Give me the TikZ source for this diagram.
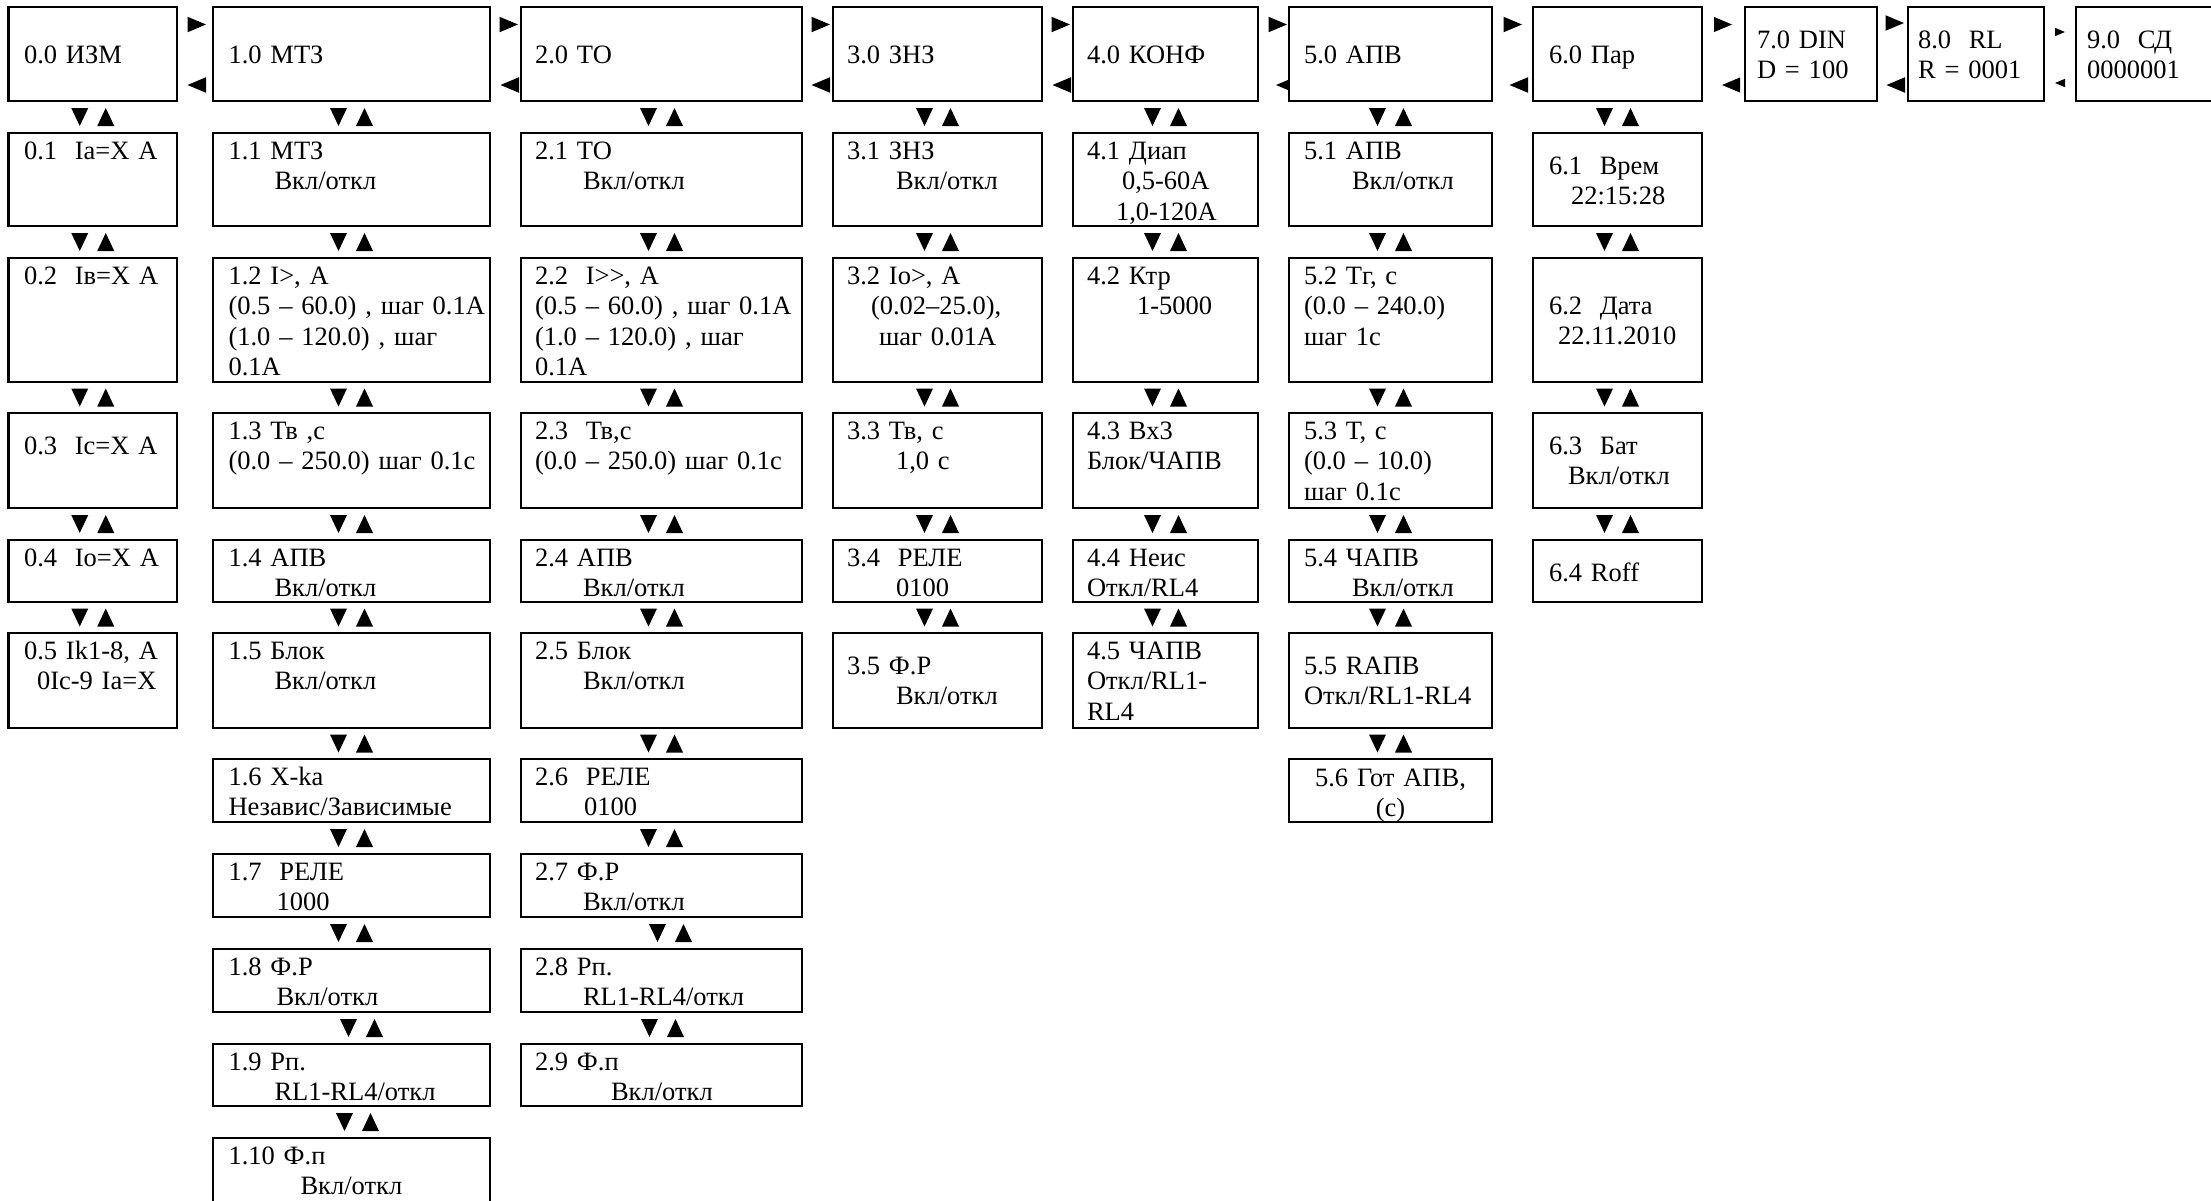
\documentclass[tikz,border=0pt]{standalone}
\usepackage{fontspec}
\setmainfont{Liberation Serif}
\usetikzlibrary{calc}
\newcommand\fsz{\fontsize{26.5}{30.5}\selectfont}
\newcommand\ind[1]{\hspace*{#1pt}}
\tikzset{
  box/.style={draw, line width=2.6pt, rectangle, inner sep=0pt, outer sep=0pt, anchor=north west},
  txt/.style={font=\fsz, inner sep=0pt, outer sep=0pt, anchor=base west, text width=500pt, align=left},
  ctxt/.style={font=\fsz, inner sep=0pt, outer sep=0pt, anchor=base, align=center},
}
\newcommand\mkbox[5]{\node[box, minimum width={#4-#2}, minimum height={#5-#3}] (#1) at (#2,#3) {};}
\newcommand\mktxt[4]{\node[txt] (#1) at ($(#2.north west)+(#3)$) {#4};}
\newcommand\vpair[3]{%
  \coordinate (m) at ($(#1.south)!0.5!(#2.north)+(#3,0)$);
  \fill ($(m)+(-21.5,-9)$) -- ($(m)+(-4.5,-9)$) -- ($(m)+(-13,9)$) -- cycle;
  \fill ($(m)+(4.5,9)$) -- ($(m)+(21.5,9)$) -- ($(m)+(13,-9)$) -- cycle;}
\newcommand\rarr[4]{%
  \fill ($(#1.north west)+(-#2,#3)$) -- ++(-#4,-0.42*#4) -- ++(0,0.84*#4) -- cycle;}
\newcommand\larr[4]{%
  \fill ($(#1.north west)+(-#2,#3)$) ++(0,-0.42*#4) -- ++(0,0.84*#4) -- ++(-#4,-0.42*#4) -- cycle;}
\begin{document}
\begin{tikzpicture}[x=1pt,y=-1pt]
\useasboundingbox (0,0) rectangle (2211,1200);
\fill[white] (0,0) rectangle (2211,1200);
\clip (0,0) rectangle (2211,1200);

% column 0
\mkbox{n00}{8.5}{7}{177}{101}
\mkbox{n01}{8.5}{133}{177}{226}
\mkbox{n02}{8.5}{258}{177}{382}
\mkbox{n03}{8.5}{413}{177}{508}
\mkbox{n04}{8.5}{540}{177}{602}
\mkbox{n05}{8.5}{633}{177}{728}
% column 1
\mkbox{n10}{213}{7}{490}{101}
\mkbox{n11}{213}{133}{490}{226}
\mkbox{n12}{213}{258}{490}{382}
\mkbox{n13}{213}{413}{490}{508}
\mkbox{n14}{213}{540}{490}{602}
\mkbox{n15}{213}{633}{490}{728}
\mkbox{n16}{213}{759}{490}{822}
\mkbox{n17}{213}{854}{490}{917}
\mkbox{n18}{213}{949}{490}{1012}
\mkbox{n19}{213}{1044}{490}{1106}
\mkbox{n1x}{213}{1138}{490}{1215}
% column 2
\mkbox{n20}{521}{7}{802}{101}
\mkbox{n21}{521}{133}{802}{226}
\mkbox{n22}{521}{258}{802}{382}
\mkbox{n23}{521}{413}{802}{508}
\mkbox{n24}{521}{540}{802}{602}
\mkbox{n25}{521}{633}{802}{728}
\mkbox{n26}{521}{759}{802}{822}
\mkbox{n27}{521}{854}{802}{917}
\mkbox{n28}{521}{949}{802}{1012}
\mkbox{n29}{521}{1044}{802}{1106}
% column 3
\mkbox{n30}{833}{7}{1042}{101}
\mkbox{n31}{833}{133}{1042}{226}
\mkbox{n32}{833}{258}{1042}{382}
\mkbox{n33}{833}{413}{1042}{508}
\mkbox{n34}{833}{540}{1042}{602}
\mkbox{n35}{833}{633}{1042}{728}
% column 4
\mkbox{n40}{1073}{7}{1258}{101}
\mkbox{n41}{1073}{133}{1258}{226}
\mkbox{n42}{1073}{258}{1258}{382}
\mkbox{n43}{1073}{413}{1258}{508}
\mkbox{n44}{1073}{540}{1258}{602}
\mkbox{n45}{1073}{633}{1258}{728}
% column 5
\mkbox{n50}{1289}{7}{1492}{101}
\mkbox{n51}{1289}{133}{1492}{226}
\mkbox{n52}{1289}{258}{1492}{382}
\mkbox{n53}{1289}{413}{1492}{508}
\mkbox{n54}{1289}{540}{1492}{602}
\mkbox{n55}{1289}{633}{1492}{728}
\mkbox{n56}{1289}{759}{1492}{822}
% column 6
\mkbox{n60}{1533}{7}{1702}{101}
\mkbox{n61}{1533}{133}{1702}{226}
\mkbox{n62}{1533}{258}{1702}{382}
\mkbox{n63}{1533}{413}{1702}{508}
\mkbox{n64}{1533}{540}{1702}{602}
% top right
\mkbox{n70}{1745}{7}{1877}{101}
\mkbox{n80}{1908}{7}{2044}{101}
\mkbox{n90}{2076}{7}{2215}{101}

% texts column 0
\mktxt{t00}{n00}{15.5,56}{0.0 ИЗМ}
\mktxt{t01}{n01}{15.5,26}{0.1\ \ Ia=X A}
\mktxt{t02}{n02}{15.5,26}{0.2\ \ Iв=X A}
\mktxt{t03}{n03}{15.5,41}{0.3\ \ Ic=X A}
\mktxt{t04}{n04}{15.5,26}{0.4\ \ Io=X A}
\mktxt{t05}{n05}{15.5,26}{0.5 Ik1-8, A\\\ind{13}0Ic-9 Ia=X}
% column 1
\mktxt{t10}{n10}{15.5,56}{1.0 МТЗ}
\mktxt{t11}{n11}{15.5,26}{1.1 МТЗ\\\ind{46}Вкл/откл}
\mktxt{t12}{n12}{15.5,26}{1.2 I>, A\\(0.5 – 60.0) , шаг 0.1А\\(1.0 – 120.0) , шаг\\0.1А}
\mktxt{t13}{n13}{15.5,26}{1.3 Тв ,с\\(0.0 – 250.0) шаг 0.1с}
\mktxt{t14}{n14}{15.5,26}{1.4 АПВ\\\ind{46}Вкл/откл}
\mktxt{t15}{n15}{15.5,26}{1.5 Блок\\\ind{46}Вкл/откл}
\mktxt{t16}{n16}{15.5,26}{1.6 Х-ka\\Независ/Зависимые}
\mktxt{t17}{n17}{15.5,26}{1.7\ \ РЕЛЕ\\\ind{48}1000}
\mktxt{t18}{n18}{15.5,26}{1.8 Ф.Р\\\ind{48}Вкл/откл}
\mktxt{t19}{n19}{15.5,26}{1.9 Рп.\\\ind{46}RL1-RL4/откл}
\mktxt{t1x}{n1x}{15.5,26}{1.10 Ф.п\\\ind{72}Вкл/откл}
% column 2
\mktxt{t20}{n20}{14,56}{2.0 ТО}
\mktxt{t21}{n21}{14,26}{2.1 ТО\\\ind{48}Вкл/откл}
\mktxt{t22}{n22}{14,26}{2.2\ \ I>{}>, A\\(0.5 – 60.0) , шаг 0.1А\\(1.0 – 120.0) , шаг\\0.1А}
\mktxt{t23}{n23}{14,26}{2.3\ \ Тв,с\\(0.0 – 250.0) шаг 0.1с}
\mktxt{t24}{n24}{14,26}{2.4 АПВ\\\ind{48}Вкл/откл}
\mktxt{t25}{n25}{14,26}{2.5 Блок\\\ind{48}Вкл/откл}
\mktxt{t26}{n26}{14,26}{2.6\ \ РЕЛЕ\\\ind{49}0100}
\mktxt{t27}{n27}{14,26}{2.7 Ф.Р\\\ind{48}Вкл/откл}
\mktxt{t28}{n28}{14,26}{2.8 Рп.\\\ind{48}RL1-RL4/откл}
\mktxt{t29}{n29}{14,26}{2.9 Ф.п\\\ind{76}Вкл/откл}
% column 3
\mktxt{t30}{n30}{14,56}{3.0 ЗНЗ}
\mktxt{t31}{n31}{14,26}{3.1 ЗНЗ\\\ind{49}Вкл/откл}
\mktxt{t32}{n32}{14,26}{3.2 Io>, A\\\ind{24}(0.02–25.0),\\\ind{32}шаг 0.01А}
\mktxt{t33}{n33}{14,26}{3.3 Тв, с\\\ind{49}1,0 с}
\mktxt{t34}{n34}{14,26}{3.4\ \ РЕЛЕ\\\ind{49}0100}
\mktxt{t35}{n35}{14,41}{3.5 Ф.Р\\\ind{49}Вкл/откл}
% column 4
\mktxt{t40}{n40}{14,56}{4.0 КОНФ}
\mktxt{t41}{n41}{14,26}{4.1 Диап\\\ind{35}0,5-60А\\\ind{29}1,0-120А}
\mktxt{t42}{n42}{14,26}{4.2 Ктр\\\ind{50}1-5000}
\mktxt{t43}{n43}{14,26}{4.3 Вх3\\Блок/ЧАПВ}
\mktxt{t44}{n44}{14,26}{4.4 Неис\\Откл/RL4}
\mktxt{t45}{n45}{14,26}{4.5 ЧАПВ\\Откл/RL1-\\RL4}
% column 5
\mktxt{t50}{n50}{15,56}{5.0 АПВ}
\mktxt{t51}{n51}{15,26}{5.1 АПВ\\\ind{48}Вкл/откл}
\mktxt{t52}{n52}{15,26}{5.2 Тг, с\\(0.0 – 240.0)\\шаг 1с}
\mktxt{t53}{n53}{15,26}{5.3 Т, с\\(0.0 – 10.0)\\шаг 0.1с}
\mktxt{t54}{n54}{15,26}{5.4 ЧАПВ\\\ind{48}Вкл/откл}
\mktxt{t55}{n55}{15,41}{5.5 RАПВ\\Откл/RL1-RL4}
\node[ctxt, text width=203pt] (t56) at ($(n56.north)+(0,27)$) {5.6 Гот АПВ,\\(с)};
% column 6
\mktxt{t60}{n60}{16,56}{6.0 Пар}
\mktxt{t61}{n61}{16,41}{6.1\ \ Врем\\\ind{22}22:15:28}
\mktxt{t62}{n62}{16,56}{6.2\ \ Дата\\\ind{9}22.11.2010}
\mktxt{t63}{n63}{16,41}{6.3\ \ Бат\\\ind{19}Вкл/откл}
\mktxt{t64}{n64}{16,41}{6.4 Roff}
% top right
\mktxt{t70}{n70}{12,41}{7.0 DIN\\D = 100}
\mktxt{t80}{n80}{10,41}{8.0\ \ RL\\R = 0001}
\mktxt{t90}{n90}{11,41}{9.0\ \ СД\\0000001}

% vertical navigation marks
\vpair{n00}{n01}{0}\vpair{n01}{n02}{0}\vpair{n02}{n03}{0}\vpair{n03}{n04}{0}\vpair{n04}{n05}{0}
\vpair{n10}{n11}{0}\vpair{n11}{n12}{0}\vpair{n12}{n13}{0}\vpair{n13}{n14}{0}\vpair{n14}{n15}{0}
\vpair{n15}{n16}{0}\vpair{n16}{n17}{0}\vpair{n17}{n18}{0}\vpair{n18}{n19}{10}\vpair{n19}{n1x}{6}
\vpair{n20}{n21}{0}\vpair{n21}{n22}{0}\vpair{n22}{n23}{0}\vpair{n23}{n24}{0}\vpair{n24}{n25}{0}
\vpair{n25}{n26}{0}\vpair{n26}{n27}{0}\vpair{n27}{n28}{9}\vpair{n28}{n29}{1}
\vpair{n30}{n31}{0}\vpair{n31}{n32}{0}\vpair{n32}{n33}{0}\vpair{n33}{n34}{0}\vpair{n34}{n35}{0}
\vpair{n40}{n41}{0}\vpair{n41}{n42}{0}\vpair{n42}{n43}{0}\vpair{n43}{n44}{0}\vpair{n44}{n45}{0}
\vpair{n50}{n51}{0}\vpair{n51}{n52}{0}\vpair{n52}{n53}{0}\vpair{n53}{n54}{0}\vpair{n54}{n55}{0}\vpair{n55}{n56}{0}
\vpair{n60}{n61}{0}\vpair{n61}{n62}{0}\vpair{n62}{n63}{0}\vpair{n63}{n64}{0}

% horizontal navigation marks
\rarr{n10}{7}{17.5}{18.5}\larr{n10}{7}{78}{18.5}
\rarr{n20}{3}{17.5}{18.5}\larr{n20}{2}{78}{18.5}
\rarr{n30}{3}{17.5}{18.5}\larr{n30}{3}{78}{18.5}
\rarr{n40}{3}{17.5}{18.5}\larr{n40}{2}{78}{18.5}
\rarr{n50}{2}{17.5}{18.5}\larr{n50}{1}{78}{12}
\rarr{n60}{11}{17.5}{18.5}\larr{n60}{5}{78}{18.5}
\rarr{n70}{13}{17.5}{18}\larr{n70}{5}{78}{18}
\rarr{n80}{4}{16}{18.5}\larr{n80}{3}{78}{18.5}
\rarr{n90}{11}{25}{10}\larr{n90}{11}{76}{10}
\end{tikzpicture}
\end{document}
